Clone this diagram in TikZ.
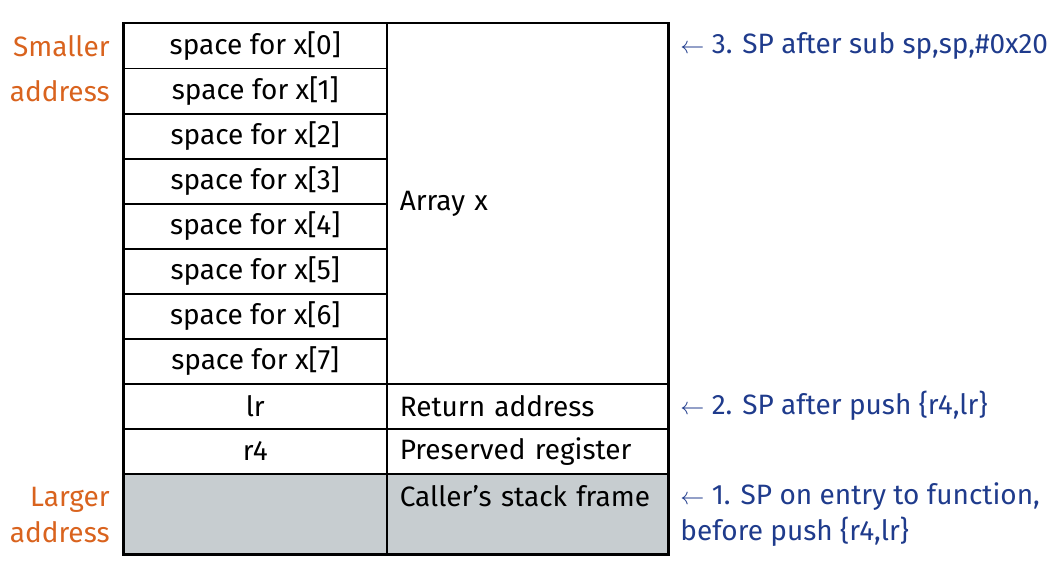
\documentclass[tikz,border=0pt]{standalone}
\usepackage{fontspec}
\setmainfont{Fira Sans}
\usepackage{xcolor}
\usepackage{tikz}
\usetikzlibrary{positioning}
\definecolor{addr}{HTML}{D9631E}
\definecolor{spc}{HTML}{1F3B8C}
\definecolor{frame}{HTML}{C7CDD0}
\newcommand{\larr}{{\fontsize{12.5}{14}\selectfont$\leftarrow$}}
\tikzset{
  lcell/.style={draw=black, line width=0.75pt, anchor=north west, inner sep=0pt,
    minimum width=131.5pt, minimum height=22.5pt, font=\fontsize{14}{16}\selectfont},
  rcell/.style={draw=black, line width=0.75pt, anchor=north west, inner xsep=6.5pt, inner ysep=0pt,
    minimum width=140.5pt, minimum height=22.5pt, text width=127.5pt, align=left,
    font=\fontsize{14}{16}\selectfont},
  outer/.style={draw=black, line width=1pt},
  addrlab/.style={text=addr, anchor=east, align=right, inner sep=0pt},
  splab/.style={text=spc, anchor=west, align=left, inner sep=0pt},
}

\begin{document}
\begin{tikzpicture}[x=0.5pt,y=-0.5pt]
  \useasboundingbox (0,0) rectangle (1052,567);

  % array slots
  \foreach \i in {0,...,7}
    \node[lcell] (x\i) at (123,{23+45*\i}) {space for x[\i]};
  \node[rcell, minimum height=180pt] (arr) at (386,23) {Array x};

  % saved registers
  \node[lcell] (lr) at (123,383) {lr};
  \node[rcell] (ret) at (386,383) {Return address};
  \node[lcell] (r4) at (123,428) {r4};
  \node[rcell] (pres) at (386,428) {Preserved register};

  % caller's frame
  \node[lcell, fill=frame, minimum height=40pt] (callL) at (123,473) {};
  \node[rcell, fill=frame, minimum height=40pt] (callR) at (386,473) {};
  \node[rcell, draw=none] (callT) at (callR.north west) {Caller’s stack frame};

  \draw[outer] (x0.north west) rectangle (callR.south east);

  % address direction
  \node[addrlab, font=\fontsize{14}{22.5}\selectfont] (small) at (110,68.5) {Smaller\\address};
  \node[addrlab, font=\fontsize{14}{18}\selectfont] (large) at (110,515) {Larger\\address};

  % stack pointer positions
  \node[splab, font=\fontsize{14}{16}\selectfont] (sp3) at (680,46) {\larr\ 3. SP after sub sp,sp,\#0x20};
  \node[splab, font=\fontsize{14}{16}\selectfont] (sp2) at (680,406) {\larr\ 2. SP after push \{r4,lr\}};
  \node[splab, font=\fontsize{14}{18}\selectfont] (sp1) at (680,515) {\larr\ 1. SP on entry to function,\\before push \{r4,lr\}};
\end{tikzpicture}
\end{document}
